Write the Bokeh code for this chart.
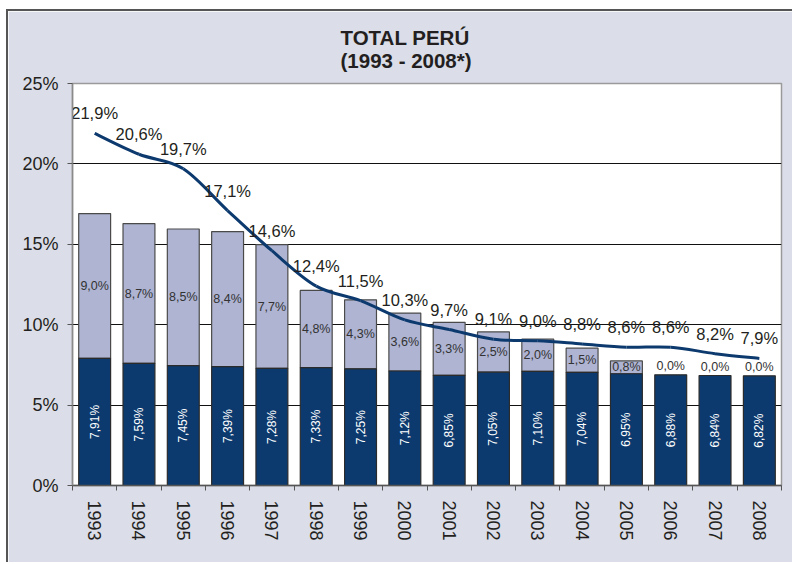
import numpy as np
from bokeh.plotting import figure
from bokeh.models import ColumnDataSource, FixedTicker, Range1d, Title
from bokeh.core.properties import value
from bokeh.embed import file_html
from bokeh.resources import INLINE

# ---- data ----
years = [str(y) for y in range(1993, 2009)]
base_rate = [7.91, 7.59, 7.45, 7.39, 7.28, 7.33, 7.25, 7.12, 6.85, 7.05, 7.10, 7.04, 6.95, 6.88, 6.84, 6.82]
extra_rate = [9.0, 8.7, 8.5, 8.4, 7.7, 4.8, 4.3, 3.6, 3.3, 2.5, 2.0, 1.5, 0.8, 0.0, 0.0, 0.0]
total_rate = [21.9, 20.6, 19.7, 17.1, 14.6, 12.4, 11.5, 10.3, 9.7, 9.1, 9.0, 8.8, 8.6, 8.6, 8.2, 7.9]
y_ticks = [0, 5, 10, 15, 20, 25]
title_lines = ["TOTAL PERÚ", "(1993 - 2008*)"]

FONT = "Liberation Sans"
DARK = "#0C3A6E"
LIGHT = "#AEB4D2"
BG = "#DBDDE8"
TXT = "#231F20"

n = len(years)
idx = np.arange(n, dtype=float)
base = np.array(base_rate)
extra = np.array(extra_rate)
total = np.array(total_rate)

p = figure(width=786, height=553, x_range=Range1d(-0.5, n - 0.5), y_range=Range1d(0, 25),
           output_backend="svg", toolbar_location=None,
           min_border_left=64, min_border_right=13, min_border_top=72, min_border_bottom=79)
p.border_fill_color = BG
p.background_fill_color = "white"
p.outline_line_color = "#9a9a9a"
p.outline_line_width = 1.5
p.styles = {"margin-left": "6px", "margin-top": "9px",
            "border-top": "2px solid #555555", "border-left": "2px solid #555555"}

# grid
p.xgrid.visible = False
p.ygrid.ticker = FixedTicker(ticks=y_ticks[1:-1])
p.ygrid.grid_line_color = "#111111"
p.ygrid.grid_line_width = 1.2

# y axis
p.yaxis.ticker = FixedTicker(ticks=y_ticks)
p.yaxis.major_label_overrides = {t: f"{t}%" for t in y_ticks}
p.yaxis.minor_tick_line_color = None
p.yaxis.major_tick_out = 5
p.yaxis.major_tick_in = 0
p.yaxis.major_tick_line_color = "#555555"
p.yaxis.axis_line_color = "#8a8a8a"
p.yaxis.axis_line_width = 1.5
p.yaxis.major_label_text_font = FONT
p.yaxis.major_label_text_font_size = "18px"
p.yaxis.major_label_text_color = TXT
p.yaxis.major_label_standoff = 9

# x axis
p.xaxis.ticker = FixedTicker(ticks=list(idx), minor_ticks=[i - 0.5 for i in range(n + 1)])
p.xaxis.major_label_overrides = {float(i): years[i] for i in range(n)}
p.xaxis.major_tick_line_color = None
p.xaxis.major_tick_out = 5
p.xaxis.major_tick_in = 0
p.xaxis.minor_tick_out = 5
p.xaxis.minor_tick_in = 0
p.xaxis.minor_tick_line_color = "#555555"
p.xaxis.axis_line_color = "#555555"
p.xaxis.axis_line_width = 1.5
p.xaxis.major_label_orientation = "vertical"
p.xaxis.major_label_text_font = FONT
p.xaxis.major_label_text_font_size = "18px"
p.xaxis.major_label_text_color = TXT
p.xaxis.major_label_standoff = 10

# bars
src = ColumnDataSource(dict(
    x=idx, base=base, top=base + extra, extra=extra,
    base_lbl=[f"{v:.2f}%".replace(".", ",") for v in base],
    base_mid=base / 2,
    extra_lbl=[f"{v:.1f}%".replace(".", ",") for v in extra],
    extra_mid=base + extra / 2,
    extra_off=[-9 if v == 0 else 0 for v in extra],
    total=total,
    total_lbl=[f"{v:.1f}%".replace(".", ",") for v in total],
))
mask = extra > 0
src_extra = ColumnDataSource(dict(x=idx[mask], base=base[mask], top=(base + extra)[mask]))

p.vbar(x="x", bottom="base", top="top", width=0.72, source=src_extra,
       fill_color=LIGHT, line_color="#4a4a4a", line_width=1.2)
p.vbar(x="x", bottom=0, top="base", width=0.72, source=src,
       fill_color=DARK, line_color="#2b2b2b", line_width=1.2)

# bar labels
p.text(x="x", y="base_mid", text="base_lbl", source=src, angle=np.pi / 2,
       text_align="center", text_baseline="middle", text_color="white",
       text_font=value(FONT), text_font_size="12px")
p.text(x="x", y="extra_mid", text="extra_lbl", source=src, y_offset="extra_off",
       text_align="center", text_baseline="middle", text_color="#333333",
       text_font=value(FONT), text_font_size="12.5px")

# smooth line (Catmull-Rom style bezier through the data points)
P = np.column_stack([idx, total])
Pext = np.vstack([P[0], P, P[-1]])
c0 = P[:-1] + (Pext[2:-1] - Pext[:-3]) / 6.0
c1 = P[1:] - (Pext[3:] - Pext[1:-2]) / 6.0
p.bezier(x0=P[:-1, 0], y0=P[:-1, 1], x1=P[1:, 0], y1=P[1:, 1],
         cx0=c0[:, 0], cy0=c0[:, 1], cx1=c1[:, 0], cy1=c1[:, 1],
         line_color="#0D3A6E", line_width=3)

p.text(x="x", y="total", text="total_lbl", source=src, y_offset=-20,
       text_align="center", text_baseline="middle", text_color=TXT,
       text_font=value(FONT), text_font_size="16.5px")

# title (two lines)
p.title.visible = False
p.add_layout(Title(text="\n".join(title_lines), align="left", offset=268, standoff=24,
                   text_font=FONT, text_font_size="20.5px", text_font_style="bold",
                   text_line_height=1.0, text_color=TXT), "above")

open("out.html", "w").write(file_html(p, INLINE))
